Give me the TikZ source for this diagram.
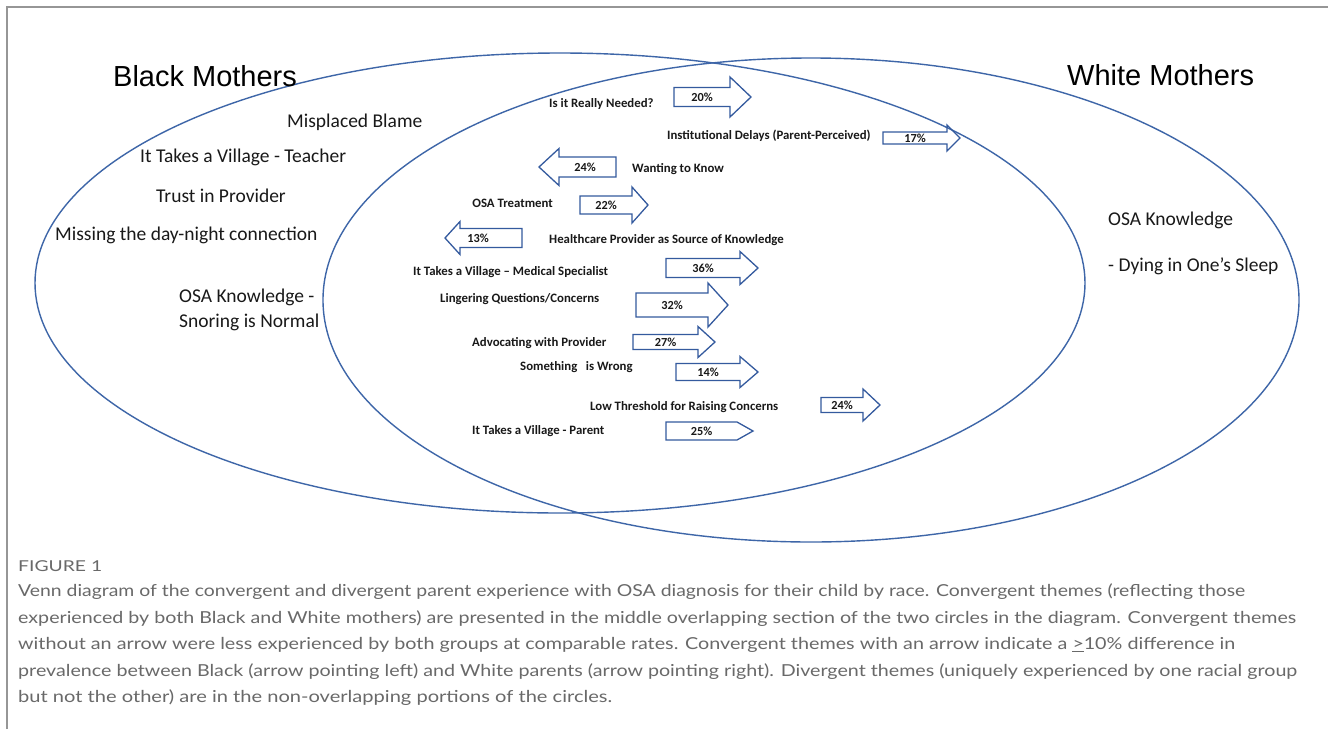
\documentclass[tikz,border=0pt]{standalone}
\usepackage{fontspec}
\usepackage{graphicx}
\setmainfont{Carlito}
\newfontfamily\arialf{Liberation Sans}
\newfontfamily\capf{Lato}
\definecolor{vennblue}{RGB}{62,102,168}
\definecolor{arrblue}{RGB}{52,90,158}
\definecolor{capgray}{RGB}{105,105,105}
\definecolor{framegray}{RGB}{150,150,150}
\definecolor{themetext}{RGB}{25,25,25}
\newcommand\myRArrow[8]{%
  \draw[arrowshape] (#2,#5-#6) -- (#3,#5-#6) -- (#3,#5-#7) -- (#4,#5) -- (#3,#5+#7) -- (#3,#5+#6) -- (#2,#5+#6) -- cycle;
  \node[pct] (#1) at ({(#2+#3)/2},#5) {#8};}
\newcommand\myLArrow[9]{%
  \draw[arrowshape] (#4,#5-#6) -- (#3,#5-#6) -- (#3,#5-#7) -- (#2,#5) -- (#3,#5+#7) -- (#3,#5+#6) -- (#4,#5+#6) -- cycle;
  \node[pct] (#1) at (#9,#5) {#8};}
\newcommand\capline[2]{\resizebox{#1}{\height}{#2}}
\begin{document}
\begin{tikzpicture}[x=1pt,y=-1pt,
  venn/.style={draw=vennblue, line width=1.4pt},
  arrowshape/.style={draw=arrblue, line width=1.3pt, line join=miter},
  title/.style={font=\arialf\fontsize{29}{32}\selectfont, inner sep=0, anchor=west, text=black},
  theme/.style={font=\fontsize{19.5}{22}\selectfont, inner sep=0, anchor=west, text=themetext},
  small/.style={font=\bfseries\fontsize{12.8}{14}\selectfont, inner sep=0, anchor=west, text=themetext},
  pct/.style={font=\bfseries\fontsize{12.3}{13}\selectfont, inner sep=0, text=themetext},
  captext/.style={font=\capf\fontsize{16.5}{19}\selectfont, inner sep=0, anchor=west, text=capgray}]
\useasboundingbox (0,0) rectangle (1328,729);
\fill[white] (0,0) rectangle (1328,729);
% frame
\draw[framegray, line width=1.6pt] (7,729) -- (7,7) -- (1328,7);
% ellipses
\draw[venn] (560,283) ellipse [x radius=525pt, y radius=230pt];
\draw[venn] (811,300) ellipse [x radius=488pt, y radius=242pt];
% titles
\node[title] (bm) at (113,76) {Black Mothers};
\node[title] (wm) at (1067,75) {White Mothers};
% black-only themes
\node[theme] (b1) at (287,122) {Misplaced Blame};
\node[theme] (b2) at (140,157) {It Takes a Village - Teacher};
\node[theme] (b3) at (156,196) {Trust in Provider};
\node[theme] (b4) at (55,235) {Missing the day-night connection};
\node[theme] (b5) at (179,297) {OSA Knowledge -};
\node[theme] (b6) at (179,322) {Snoring is Normal};
% white-only themes
\node[theme] (w1) at (1108,220) {OSA Knowledge};
\node[theme] (w2) at (1108,266) {- Dying in One’s Sleep};
% convergent themes
\node[small] (c1) at (549,104) {Is it Really Needed?};
\myRArrow{p1}{674}{730}{751}{97}{9.5}{20}{20\%}
\node[small] (c2) at (667,136) {Institutional Delays (Parent-Perceived)};
\myRArrow{p2}{883}{947}{960}{138}{6}{13}{17\%}
\myLArrow{p3}{539}{559}{616}{167}{10}{18.5}{24\%}{585}
\node[small] (c3) at (632,169) {Wanting to Know};
\node[small, anchor=east] (c4) at (553,203) {OSA Treatment};
\myRArrow{p4}{580}{632}{648}{205}{9}{18}{22\%}
\myLArrow{p5}{445}{460}{522}{238}{9.5}{16.5}{13\%}{478}
\node[small] (c5) at (549,240) {Healthcare Provider as Source of Knowledge};
\node[small] (c6) at (413,272) {It Takes a Village – Medical Specialist};
\myRArrow{p6}{666}{740}{758}{268}{9.5}{16.5}{36\%}
\node[small] (c7) at (440,299) {Lingering Questions/Concerns};
\myRArrow{p7}{636}{708}{728}{305}{12}{22}{32\%}
\node[small] (c8) at (472,343) {Advocating with Provider};
\myRArrow{p8}{633}{698}{715}{342}{7.5}{15.5}{27\%}
\node[small] (c9) at (520,367) {Something\ \ \ is Wrong};
\myRArrow{p9}{676}{740}{758}{372}{8.5}{15.5}{14\%}
\node[small] (c10) at (590,407) {Low Threshold for Raising Concerns};
\myRArrow{p10}{821}{863}{880}{405}{7.5}{16}{24\%}
\node[small] (c11) at (472,431) {It Takes a Village - Parent};
\myRArrow{p11}{666}{737}{753}{431}{9}{9}{25\%}
% caption
\node[captext, font=\capf\fontsize{15}{17}\selectfont] (fig) at (18,566) {\capline{84pt}{FIGURE 1}};
\node[captext] (l1) at (18,592) {\capline{1227pt}{Venn diagram of the convergent and divergent parent experience with OSA diagnosis for their child by race. Convergent themes (reflecting those}};
\node[captext] (l2) at (18,619) {\capline{1278pt}{experienced by both Black and White mothers) are presented in the middle overlapping section of the two circles in the diagram. Convergent themes}};
\node[captext] (l3) at (18,645) {\capline{1217pt}{without an arrow were less experienced by both groups at comparable rates. Convergent themes with an arrow indicate a \underline{>}10\% difference in}};
\node[captext] (l4) at (18,672) {\capline{1279pt}{prevalence between Black (arrow pointing left) and White parents (arrow pointing right). Divergent themes (uniquely experienced by one racial group}};
\node[captext] (l5) at (18,698) {\capline{594pt}{but not the other) are in the non-overlapping portions of the circles.}};
\end{tikzpicture}
\end{document}
